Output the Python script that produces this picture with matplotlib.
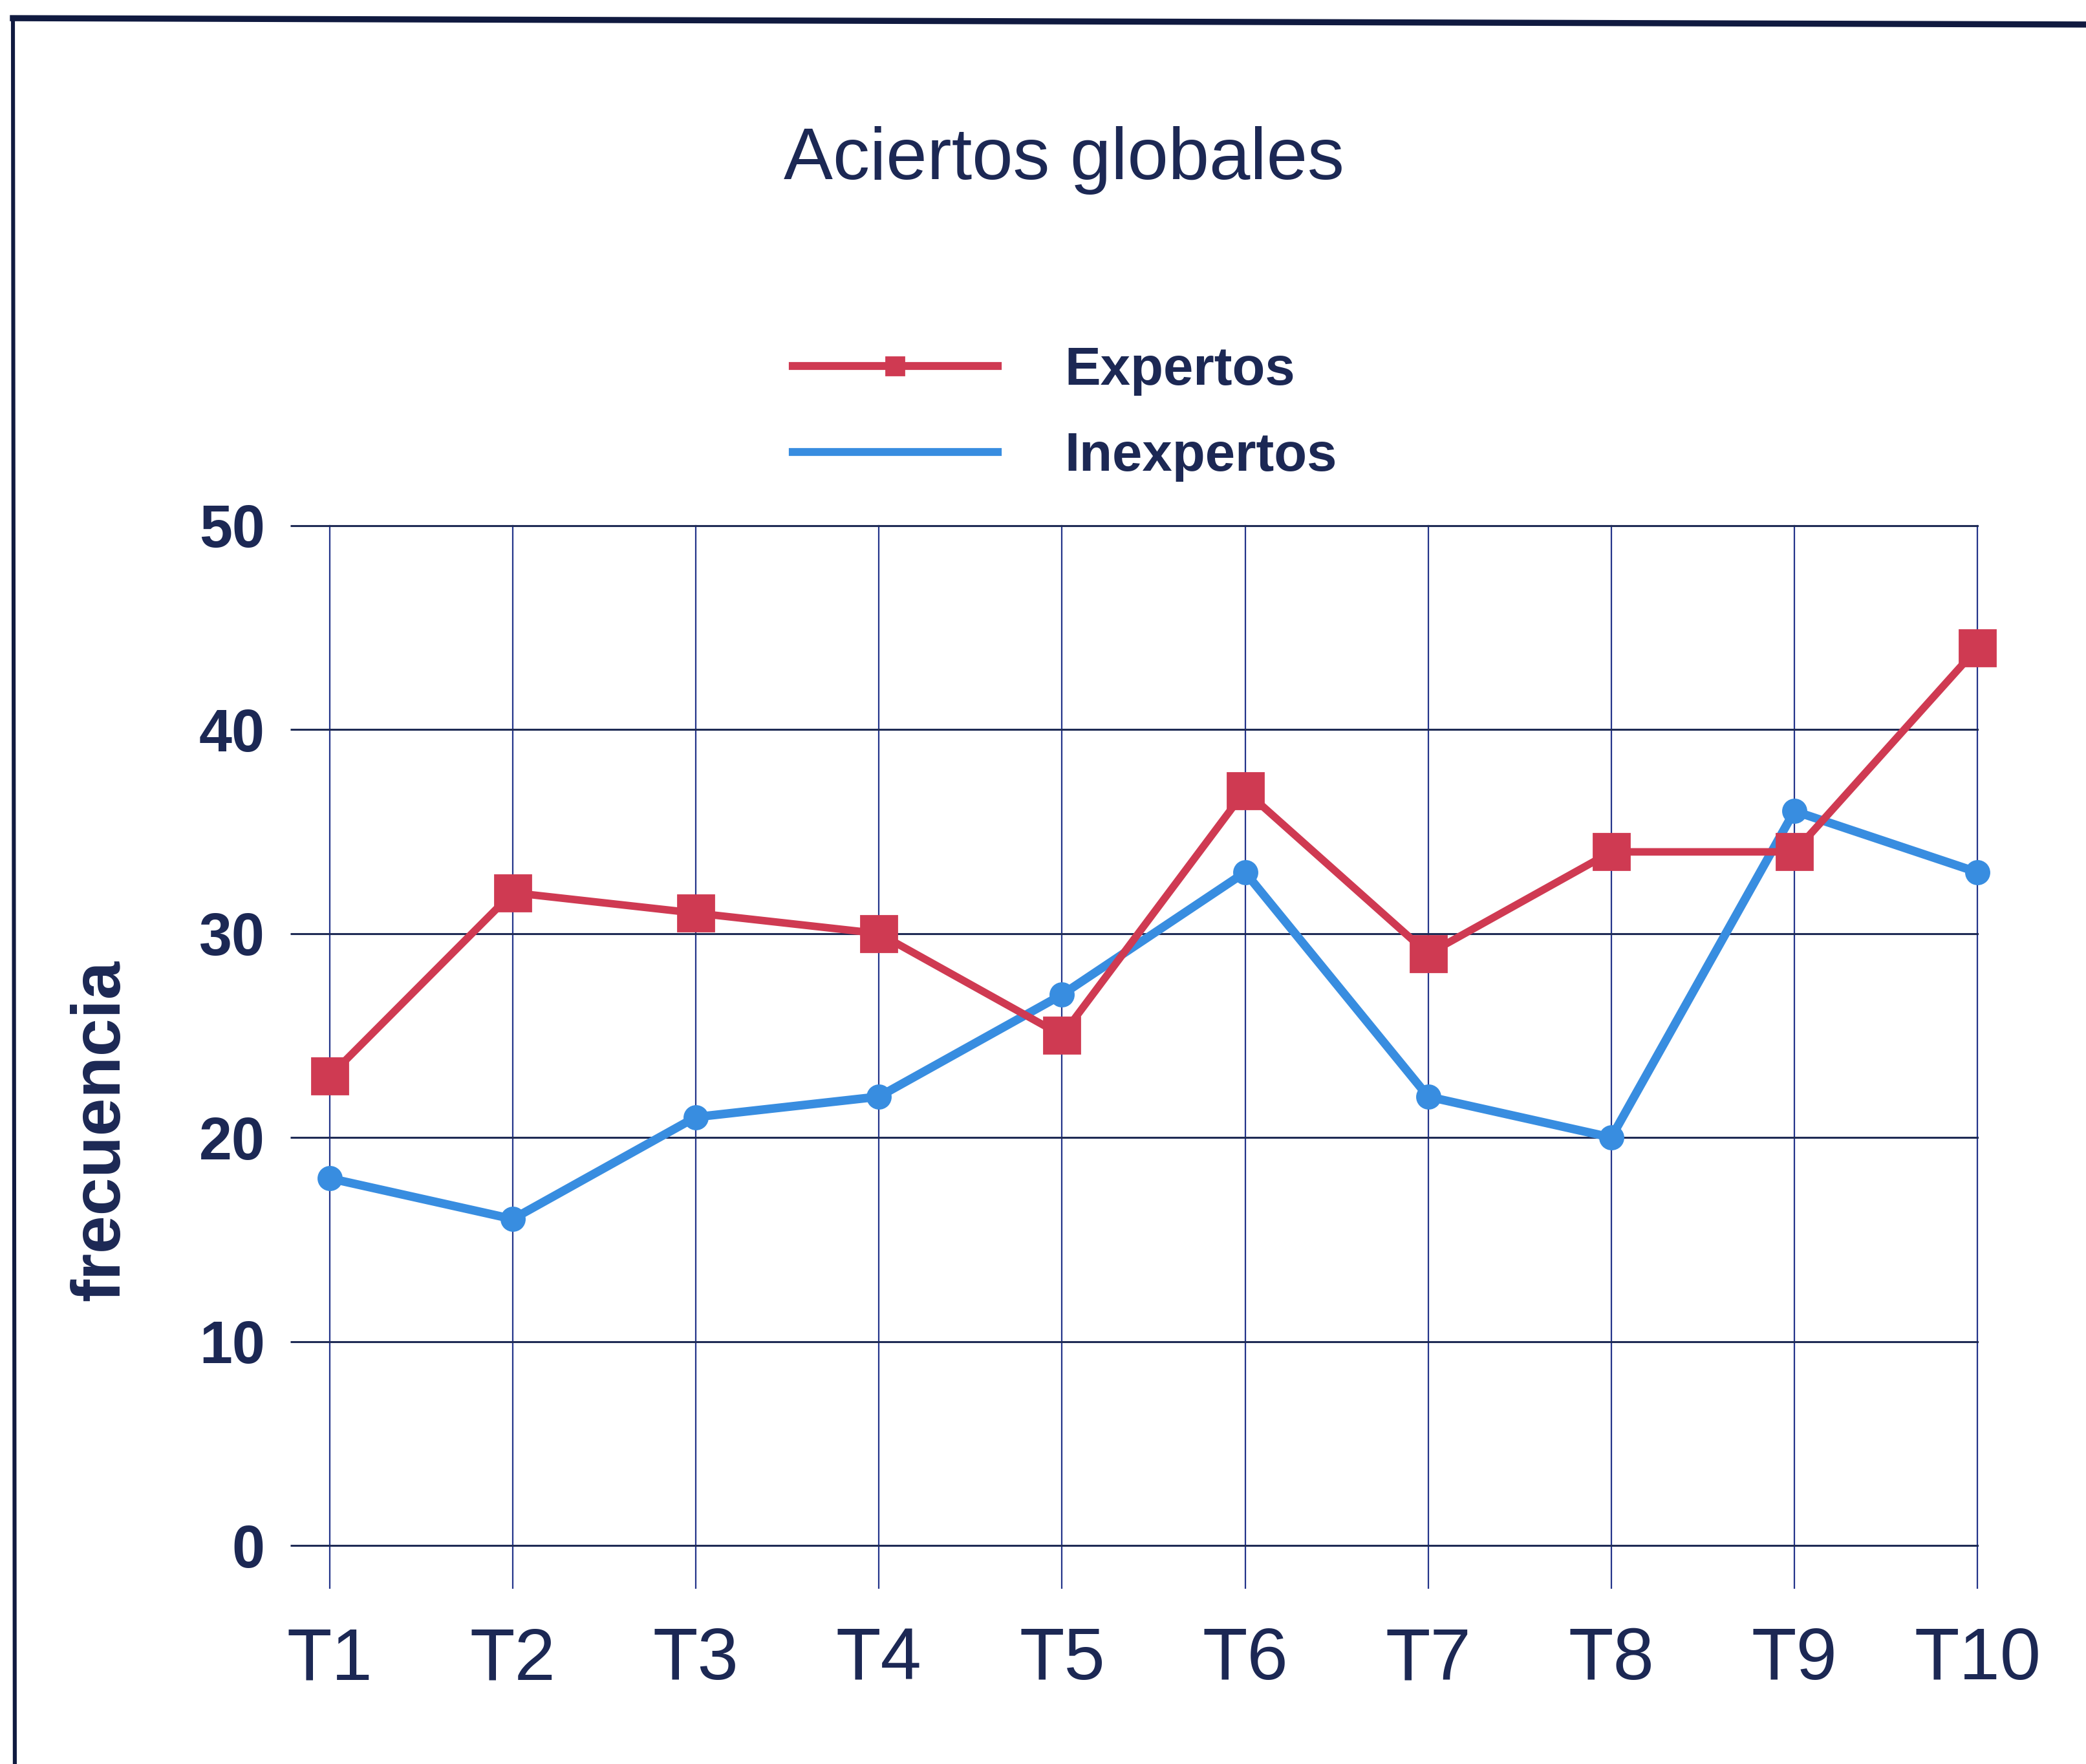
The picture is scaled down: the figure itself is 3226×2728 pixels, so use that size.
import matplotlib
matplotlib.use("Agg")
import matplotlib.pyplot as plt
from matplotlib.lines import Line2D

# ----------------------------
# DATA
# ----------------------------

categories = ["T1", "T2", "T3", "T4", "T5", "T6", "T7", "T8", "T9", "T10"]
expertos = [23, 32, 31, 30, 25, 37, 29, 34, 34, 44]
inexpertos = [18, 16, 21, 22, 27, 33, 22, 20, 36, 33]
y_ticks = [0, 10, 20, 30, 40, 50]

# ----------------------------
# STYLE
# ----------------------------

plt.rcParams["font.family"] = ["Liberation Sans", "DejaVu Sans"]
TEXT = "#1c2854"
GRID = "#1f2b55"
VGRID = "#24358a"
RED = "#cf3a52"
BLUE = "#388de0"

fig = plt.figure(figsize=(16.13, 13.64), dpi=200)
ax = fig.add_axes([0.158, 0.1239, 0.79, 0.5782])

x = list(range(len(categories)))

ax.plot(x, inexpertos, color=BLUE, lw=4.8, marker="o", markersize=13,
        clip_on=False, zorder=3)
ax.plot(x, expertos, color=RED, lw=4.2, marker="s", markersize=20,
        clip_on=False, zorder=4)

ax.set_xlim(0, len(categories) - 1)
ax.set_ylim(0, 50)
ax.set_xticks(x)
ax.set_xticklabels(categories)
ax.set_yticks(y_ticks)

for s in ax.spines.values():
    s.set_visible(False)

ax.yaxis.grid(True, color=GRID, lw=1.1)
ax.xaxis.grid(True, color=VGRID, lw=0.8)
ax.set_axisbelow(True)
for gl in ax.get_xgridlines() + ax.get_ygridlines():
    gl.set_clip_on(False)

ax.tick_params(axis="y", length=22, width=1.1, color=GRID, pad=14,
               labelsize=33, labelcolor=TEXT)
ax.tick_params(axis="x", length=24, width=0.8, color=VGRID, pad=21,
               labelsize=41, labelcolor=TEXT)
for lab in ax.get_yticklabels():
    lab.set_fontweight("bold")

ax.set_ylabel("frecuencia", fontsize=38, fontweight="bold", color=TEXT)
ax.yaxis.set_label_coords(-0.119, 0.407)

fig.text(0.510, 0.909, "Aciertos globales", fontsize=41, color=TEXT,
         ha="center", va="center")

# legend (blue entry has no marker in the original)
handles = [
    Line2D([], [], color=RED, lw=4.4, marker="s", markersize=10),
    Line2D([], [], color=BLUE, lw=4.4),
]
leg = fig.legend(handles, ["Expertos", "Inexpertos"], loc="center left",
                 bbox_to_anchor=(0.380, 0.7654), frameon=False,
                 prop={"size": 30, "weight": "bold"}, handlelength=3.8,
                 handletextpad=1.25, labelspacing=0.66, borderpad=0,
                 borderaxespad=0)
for t in leg.get_texts():
    t.set_color(TEXT)

# scanned page frame
fig.add_artist(Line2D([0.0062, 1.0], [0.9897, 0.9861], color="#101a40",
                      lw=3.4, transform=fig.transFigure))
fig.add_artist(Line2D([0.0062, 0.0071], [0.9897, 0.0], color="#101a40",
                      lw=2.2, transform=fig.transFigure))

fig.savefig("out.png", dpi=200)
